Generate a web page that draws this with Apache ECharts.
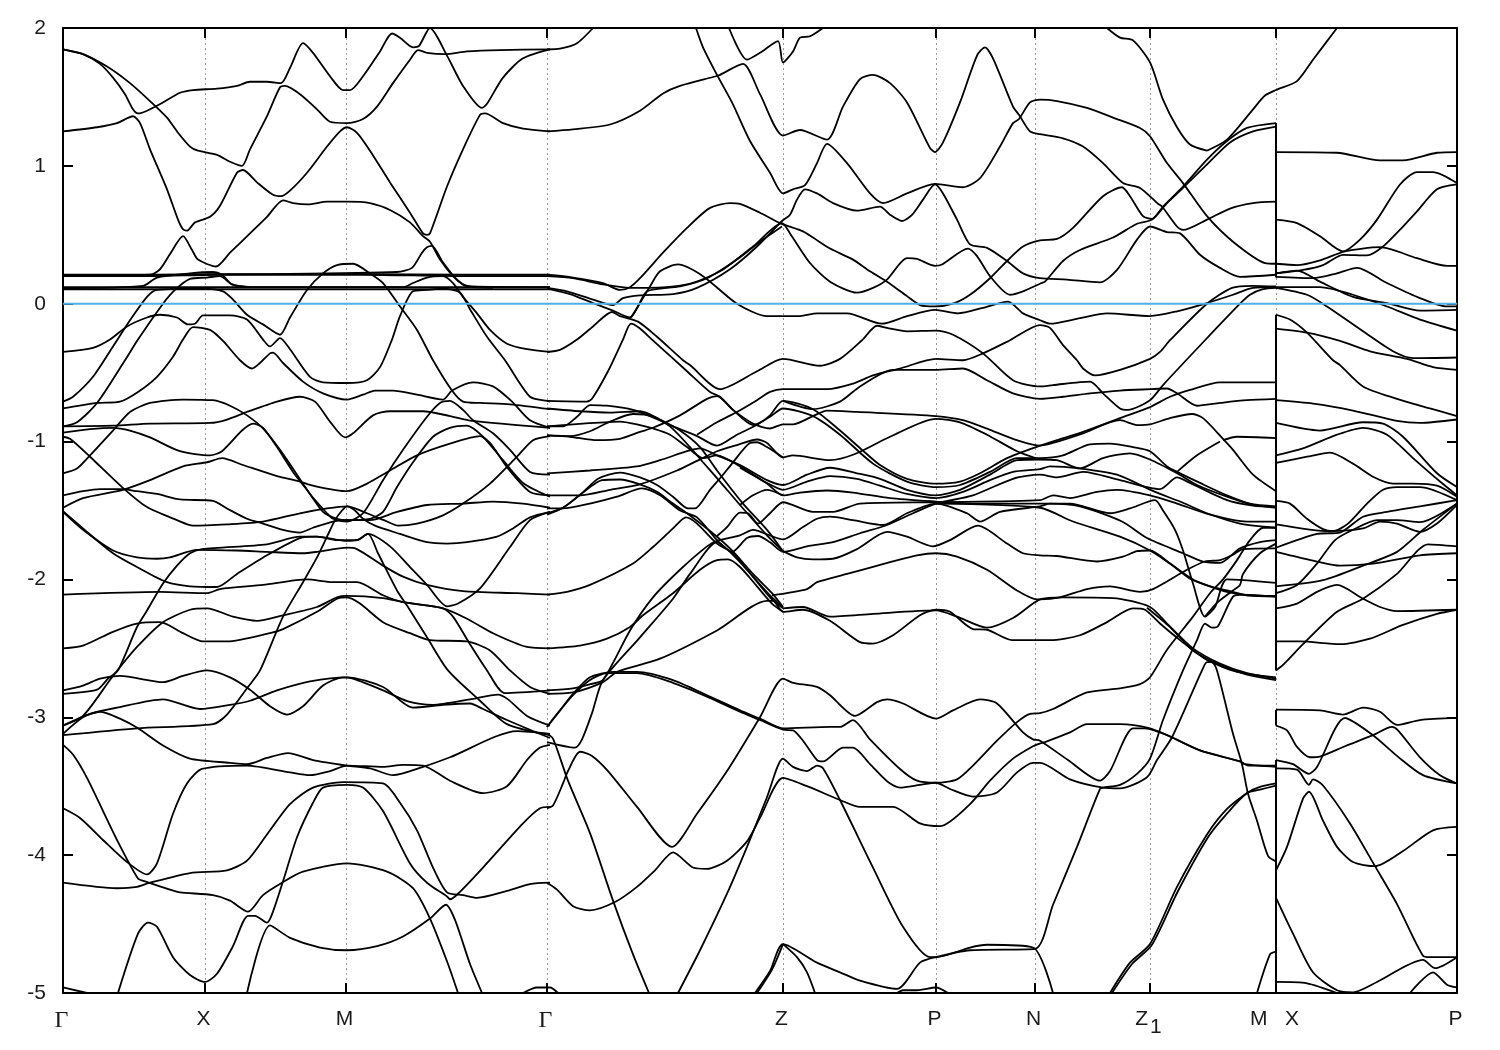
<!DOCTYPE html>
<html><head><meta charset="utf-8">
<style>html,body{margin:0;padding:0;background:#fff}#c{width:1500px;height:1050px}</style>
<script src="https://cdn.jsdelivr.net/npm/echarts@6/dist/echarts.min.js"></script>
</head><body><div id="c"></div>
<script>
// high-symmetry points along the k path (path distance)
const kPoints=[0,142,283,484,720,873,972,1087,1213,1394];
const kLabels=['{g|Γ}','X','M','{g|Γ}','Z','P','N','{z|Z}{sub|1}','M   X','P'];
const energyTicks=[-5,-4,-3,-2,-1,0,1,2];
const fermiLevel=[[0,0],[1394,0]];
// band segments: k, E, k, E, ...
const seg01=[0,1.845,20,1.81,44,1.72,67,1.60,87,1.47,104,1.35,115,1.24,127,1.14,135,1.11,154,1.08,167,1.03,179,1.00,187,1.12,204,1.36,217,1.57,222,1.58,237,1.52,254,1.41,267,1.32,284,1.31,300,1.34,314,1.43,330,1.60,347,1.77,355,1.84,364,1.82,382,1.81,404,1.83,437,1.84,487,1.845];
const seg02=[0,1.845,20,1.81,37,1.74,50,1.64,62,1.52,70,1.41,75,1.38,84,1.40,100,1.46,117,1.53,130,1.55,154,1.56,174,1.58,187,1.61,204,1.61,218,1.60,227,1.71,240,1.89,250,1.82,267,1.65,280,1.55,287,1.55,300,1.65,317,1.83,329,1.96,337,1.93,350,1.86,356,1.87,367,2.00,384,1.80,400,1.58,419,1.42,424,1.45,440,1.64,460,1.78,487,1.845];
const seg03=[0,1.25,34,1.28,54,1.31,70,1.36,77,1.31,87,1.12,104,.83,115,.61,120,.54,124,.53,132,.59,147,.63,157,.71,174,.95,180,.97,194,.88,210,.79,218,.78,227,.82,244,.95,264,1.14,277,1.25,284,1.28,294,1.24,307,1.11,327,.88,347,.66,360,.51,364,.50,367,.51,384,.85,400,1.12,417,1.37,422,1.38,440,1.31,460,1.27,487,1.25];
const seg04=[0,.205,87,.21,97,.25,107,.36,120,.49,129,.39,135,.32,153,.27,167,.37,187,.51,204,.63,220,.75,230,.73,245,.72,264,.74,284,.74,307,.73,327,.68,347,.59,360,.49,367,.45,377,.32,390,.20,400,.14,409,.125,487,.12];
const seg05=[0,.205,210,.215,334,.23,349,.26,359,.37,364,.41,369,.42,379,.31,392,.19,404,.125,430,.115];
const flat1=[0,.21,90,.21,150,.215,300,.215,400,.21,487,.21];
const flat2=[0,.20,90,.20,150,.21,300,.21,400,.20,487,.20];
const flat3=[0,.12,487,.12];
const flat4=[0,.105,487,.105];
const seg06=[0,.114,80,.13,94,.19,127,.22,150,.23,159,.21,169,.14,187,.12,340,.12,350,.15,364,.19,380,.20,390,.15,400,.05,414,-.07,427,-.19,444,-.29,464,-.33,487,-.35];
const seg07=[0,-.89,14,-.86,34,-.72,62,-.41,75,-.26,100,0,112,.10,127,.18,144,.19,157,.20,169,.14,187,.12];
const seg08=[0,-.71,10,-.675,30,-.53,50,-.31,67,-.12,84,.05,94,.10,140,.11,160,.09,170,.03,184,-.08,200,-.15,217,-.225,227,-.10,244,.10,260,.22,274,.28,290,.29,307,.22,320,.15,337,-.02,354,-.19,370,-.41,389,-.63,400,-.71,417,-.72,447,-.73,487,-.765];
const seg09=[0,-.35,30,-.32,47,-.26,64,-.165,84,-.10,97,-.08,114,-.10,125,-.15,132,-.145,140,-.085,167,-.085,184,-.115,200,-.26,207,-.31,217,-.25,227,-.33,247,-.53,260,-.57,284,-.575,304,-.555,317,-.46,329,-.26,337,-.09,350,.09,364,.10,380,.11,397,.08,407,-.04,424,-.24,442,-.41,467,-.675,484,-.705,487,-.71];
const seg10=[0,-.76,34,-.72,57,-.71,75,-.64,94,-.53,110,-.385,120,-.26,130,-.17,147,-.19,160,-.27,177,-.41,189,-.47,197,-.43,207,-.36,210,-.355,220,-.43,240,-.565,260,-.65,284,-.695,300,-.66,312,-.63,330,-.63,354,-.66,380,-.695,389,-.63,410,-.57,430,-.60,449,-.71,467,-.845,487,-.90];
const seg11=[0,-.89,50,-.885,87,-.87,147,-.865,164,-.84,184,-.785,214,-.71,237,-.675,252,-.71,267,-.855,282,-.97,290,-.94,310,-.81,327,-.78,360,-.78,387,-.815,409,-.85,487,-.90];
const seg12=[0,-.935,27,-.91,50,-.90,67,-.92,87,-.97,117,-1.07,147,-1.10,159,-1.07,179,-.92,190,-.87,200,-.90,214,-1.04,230,-1.22,244,-1.35,260,-1.51,274,-1.56,284,-1.57,307,-1.56,320,-1.51,334,-1.33,350,-1.15,370,-.965,387,-.90,404,-.885,420,-.965,440,-1.135,460,-1.30,487,-1.40];
const seg13=[0,-1.23,14,-1.195,27,-1.10,50,-.92,67,-.785,87,-.72,120,-.695,150,-.70,167,-.74,184,-.81,200,-.905,217,-1.06,234,-1.24,247,-1.38,264,-1.52,270,-1.56,284,-1.58,300,-1.52,320,-1.28,340,-1.06,364,-.82,377,-.72,387,-.705,400,-.77,410,-.845,430,-.94,447,-1.06,467,-1.22,487,-1.24];
const seg14=[0,-1.39,20,-1.36,37,-1.345,59,-1.345,74,-1.36,94,-1.38,117,-1.42,150,-1.43,164,-1.485,184,-1.56,200,-1.595,220,-1.64,237,-1.66,250,-1.625,270,-1.58,284,-1.57,307,-1.57,334,-1.51,364,-1.46,400,-1.45,430,-1.435,460,-1.45,487,-1.48];
const seg15=[0,-.965,7,-.98,27,-1.11,59,-1.33,84,-1.475,114,-1.57,130,-1.61,164,-1.60,200,-1.58,237,-1.52,264,-1.485,284,-1.47,304,-1.52,324,-1.58,335,-1.61,354,-1.595,380,-1.535,400,-1.45,427,-1.305,454,-1.11,470,-.99,487,-.96];
const seg16=[0,-1.48,20,-1.41,60,-1.35,87,-1.28,120,-1.18,144,-1.15,159,-1.12,180,-1.17,214,-1.25,237,-1.29,250,-1.32,284,-1.36,304,-1.305,327,-1.21,354,-1.10,387,-1.015,417,-.96,427,-1.01,445,-1.195,467,-1.365,487,-1.39];
const seg17=[0,-1.505,20,-1.63,50,-1.81,74,-1.91,104,-2.02,127,-2.05,154,-2.055,174,-1.96,204,-1.825,237,-1.70,254,-1.69,274,-1.715,294,-1.715,305,-1.67,327,-1.76,347,-1.91,364,-2.04,384,-2.195,395,-2.175,417,-2.065,447,-1.765,467,-1.57,487,-1.51];
const seg18=[0,-1.51,20,-1.64,50,-1.79,74,-1.84,94,-1.85,107,-1.84,134,-1.785,174,-1.79,204,-1.80,240,-1.81,254,-1.80,284,-1.77,294,-1.78,320,-1.90,340,-1.98,364,-2.04,400,-2.085,454,-2.10,487,-2.11];
const seg19=[0,-2.83,34,-2.80,45,-2.72,55,-2.66,74,-2.345,84,-2.225,100,-2.03,114,-1.90,127,-1.81,139,-1.78,204,-1.745,237,-1.69,254,-1.69,284,-1.72,294,-1.715,305,-1.67,315,-1.81,334,-2.08,345,-2.20,364,-2.42,385,-2.66,417,-2.88,444,-3.05,487,-3.13];
const seg20=[0,-3.13,74,-3.08,150,-3.05,164,-2.98,184,-2.79,197,-2.66,220,-2.27,240,-2.02,254,-1.84,264,-1.69,272,-1.57,279,-1.50,284,-1.47,292,-1.50,300,-1.56,312,-1.61,337,-1.67,364,-1.73,384,-1.74,404,-1.73,434,-1.69,450,-1.63,467,-1.55,487,-1.51];
const seg21=[0,-2.11,97,-2.09,144,-2.10,157,-2.07,200,-2.04,244,-2.00,270,-2.02,294,-2.02,320,-2.115,340,-2.165,380,-2.21,390,-2.27,407,-2.47,424,-2.66,442,-2.825,487,-2.805];
const seg22=[0,-2.50,20,-2.48,50,-2.38,74,-2.32,97,-2.31,120,-2.39,140,-2.45,164,-2.45,207,-2.39,220,-2.36,254,-2.235,274,-2.14,284,-2.13,297,-2.175,320,-2.31,347,-2.39,367,-2.44,404,-2.45,427,-2.515,447,-2.66,467,-2.78,487,-2.83];
const seg23=[0,-3.06,20,-2.99,49,-2.71,74,-2.49,100,-2.31,127,-2.22,144,-2.21,170,-2.27,194,-2.30,220,-2.26,254,-2.20,274,-2.13,284,-2.12,320,-2.135,340,-2.165,380,-2.21,404,-2.285,430,-2.39,464,-2.49,487,-2.50];
const seg24=[0,-2.805,20,-2.77,37,-2.72,57,-2.70,100,-2.745,120,-2.70,144,-2.66,167,-2.71,187,-2.80,207,-2.92,224,-2.98,240,-2.92,260,-2.77,280,-2.71,290,-2.72,320,-2.805,345,-2.885,370,-2.91,407,-2.87,435,-2.835,445,-2.87,464,-2.99,487,-3.06];
const seg25=[0,-3.06,27,-2.975,54,-2.93,100,-2.87,137,-2.94,167,-2.91,187,-2.88,214,-2.805,247,-2.74,284,-2.71,320,-2.78,350,-2.93,380,-2.91,407,-2.90,420,-2.94,444,-3.02,470,-3.10,487,-3.15];
const seg26=[0,-3.12,20,-3.00,37,-2.96,57,-3.01,75,-3.08,100,-3.205,127,-3.30,167,-3.33,184,-3.34,204,-3.295,225,-3.26,250,-3.31,284,-3.35,307,-3.37,330,-3.42,360,-3.36,387,-3.29,454,-3.10,487,-3.12];
const seg27=[0,-3.20,10,-3.27,24,-3.44,54,-3.89,75,-4.17,82,-4.19,107,-4.25,117,-4.27,150,-4.29,167,-4.33,185,-4.41,200,-4.29,219,-4.20,240,-4.12,284,-4.06,324,-4.12,350,-4.24,367,-4.46,384,-4.77,395,-5.0];
const seg28=[0,-3.66,17,-3.73,40,-3.89,64,-4.05,84,-4.14,94,-4.06,110,-3.70,124,-3.48,139,-3.375,184,-3.35,227,-3.40,247,-3.42,267,-3.39,284,-3.35,320,-3.36,340,-3.345,360,-3.35,387,-3.46,420,-3.55,444,-3.50,464,-3.31,477,-3.22,487,-3.20];
const seg29=[0,-4.20,54,-4.24,74,-4.23,87,-4.20,127,-4.13,164,-4.11,184,-4.04,204,-3.85,227,-3.63,250,-3.51,280,-3.47,320,-3.48,337,-3.62,354,-3.82,370,-4.09,384,-4.27,400,-4.29,414,-4.31,444,-4.26,467,-4.21,487,-4.20];
const seg30=[55,-5.0,75,-4.57,85,-4.49,94,-4.52,110,-4.74,127,-4.87,142,-4.92,154,-4.86,170,-4.66,185,-4.44,192,-4.44,204,-4.49,209,-4.43,220,-4.19,234,-3.87,250,-3.62,260,-3.51,284,-3.49,300,-3.51,320,-3.68,347,-4.06,364,-4.20,384,-4.30,387,-4.32,395,-4.28,420,-4.09,460,-3.77,477,-3.66,487,-3.65];
const seg31=[184,-5.0,207,-4.51,227,-4.60,257,-4.67,284,-4.69,314,-4.66,340,-4.59,367,-4.46,383,-4.36,392,-4.47,407,-4.79,419,-5.0];
const seg32=[0,-4.96,24,-5.0];
const seg33=[460,-5.0,474,-4.96,487,-4.96,495,-5.0];
// Gamma -> Z -> P -> N
const seg34=[484,1.845,497,1.85,514,1.89,530,2.00];
const seg35=[484,1.25,510,1.265,547,1.30,577,1.40,600,1.525,617,1.58,653,1.65,657,1.66,680,1.74,697,1.52,720,1.22,737,1.26,764,1.19,780,1.43,797,1.63,810,1.66,827,1.60,844,1.46,867,1.13,872,1.10,880,1.17,897,1.46,914,1.80,922,1.86,930,1.78,950,1.43,956,1.37,967,1.25,977,1.23,1000,1.20,1020,1.14,1040,1.02,1060,.875,1077,.84,1095,.725,1099,.705,1114,.56,1120,.535,1144,.61,1167,.69,1190,.73,1213,.74];
const seg36=[633,2.0,640,1.86,654,1.66,669,1.46,687,1.18,707,.95,720,.80,730,.83,742,.86,754,1.02,764,1.16,784,1.02,807,.80,820,.73,844,.80,872,.87,900,.845,917,.91,937,1.14,950,1.31,956,1.34,967,1.46,977,1.48,994,1.47,1024,1.42,1050,1.35,1077,1.275,1087,1.215,1104,1.02,1120,.875,1144,.635,1170,.45,1202,.295,1213,.29];
const seg37=[666,2.0,684,1.77,697,1.82,715,1.905,720,1.75,730,1.83,737,1.93,747,1.94,760,2.0];
const seg38=[484,.21,510,.19,540,.15,557,.10,567,.12,577,.185,600,.37,624,.55,647,.695,667,.73,677,.725,697,.66,717,.585,740,.525,750,.48,767,.40,790,.32,807,.235,824,.16,844,.055,857,-.01,872,-.02,890,0,907,.065,927,.185,944,.31,960,.415,977,.46,994,.47,1010,.55,1040,.78,1059,.845,1067,.78,1080,.635,1089,.615,1100,.705,1120,.85,1144,1.045,1164,1.18,1184,1.275,1213,1.31];
const seg39=[484,.115,504,.09,530,.03,550,-.01,560,.04,577,.06,610,.07,634,.115,667,.25,694,.415,719,.60,727,.645,734,.755,742,.83,754,.80,770,.73,794,.675,817,.705,827,.645,839,.60,849,.645,860,.755,872,.865,880,.80,894,.61,907,.43,924,.405,944,.31,960,.22,977,.185,1004,.175,1037,.155,1054,.245,1074,.465,1087,.56,1104,.52,1117,.51,1137,.355,1157,.26,1177,.195,1213,.21];
const seg40=[484,.20,510,.185,540,.14,567,.115,584,.115,624,.14,657,.235,690,.415,719,.585,727,.51,747,.295,767,.16,794,.08,810,.115,824,.175,844,.33,854,.325,872,.275,879,.285,905,.40,914,.345,927,.20,947,.065,960,.09,977,.145,982,.16,1000,.31,1017,.39,1050,.48,1074,.58,1089,.61,1104,.73,1120,.84,1144,1.01,1167,1.17,1190,1.25,1213,1.285];
const seg41=[484,.11,507,.07,530,.005,550,-.05,567,-.10,575,-.02,584,.09,617,.125,644,.185,674,.32,697,.45,719,.56];
const seg42=[568,-.10,577,.005,587,.125,597,.235,615,.285,640,.20,674,0,704,-.09,737,-.09,754,-.07,784,-.07,819,-.145,844,-.09,872,-.045,895,-.07,920,-.03,945,.015,960,-.07,977,-.12,987,-.145,1017,-.105,1044,-.07,1087,-.09,1114,-.055,1144,.005,1170,.065,1190,.115,1213,.12];
const seg43=[484,-.35,497,-.335,514,-.26,530,-.165,549,-.06,557,-.09,575,-.13,594,-.24,620,-.41,627,-.445,657,-.62,694,-.49,720,-.40,757,-.45,777,-.40,799,-.265,814,-.16,824,-.175,844,-.20,873,-.195,890,-.225,920,-.36,950,-.555,977,-.60,990,-.59,1027,-.565,1040,-.65,1057,-.76,1065,-.77,1087,-.70,1100,-.59,1142,-.265,1177,0,1187,.065,1200,.105,1213,.115];
const seg44=[484,-.705,524,-.71,529,-.69,545,-.49,560,-.26,568,-.145,576,-.175,589,-.26,624,-.49,647,-.64,657,-.675,670,-.77,690,-.88,707,-.82,720,-.76,750,-.815,777,-.95,810,-1.16,844,-1.29,873,-1.33,897,-1.315,927,-1.22,954,-1.12,977,-1.12,1000,-1.10,1027,-1.02,1047,-1.015,1070,-1.04,1087,-1.07,1104,-1.18,1114,-1.22,1137,-1.30,1164,-1.39,1187,-1.45,1213,-1.47];
const seg45=[484,-.76,517,-.78,547,-.79,577,-.78,597,-.84,617,-.92,637,-1.04,654,-1.21,680,-1.45,704,-1.64,720,-1.795];
const seg46=[484,-.89,500,-.89,514,-.82,527,-.735,544,-.74,570,-.77,590,-.825,610,-.89,634,-.96,654,-1.03,674,-.95,695,-.875,707,-.81,720,-.705,750,-.765,777,-.92,799,-1.06,817,-1.17,844,-1.27,873,-1.305,897,-1.29,917,-1.23,944,-1.12,977,-1.03,994,-.99,1020,-.93,1057,-.83,1087,-.75,1107,-.675,1127,-.625,1157,-.57,1213,-.57];
const seg47=[484,-.955,507,-.965,534,-.99,557,-.98,577,-.93,590,-.90,617,-.81,644,-.69,654,-.67,670,-.77,690,-.87,707,-.905,720,-.875,730,-.875,750,-.815,764,-.775,794,-.785,873,-.815,900,-.845,927,-.915,954,-.99,977,-1.03,990,-1.01,1020,-.94,1057,-.845,1074,-.88,1087,-.875,1107,-.83,1129,-.80,1140,-.83,1160,-.98,1170,-1.06,1190,-1.24,1213,-1.36];
const seg48=[484,-.955,507,-.96,527,-.925,547,-.855,570,-.80,589,-.815,607,-.89,627,-1.04,640,-1.15,657,-1.29,677,-1.46,704,-1.68,720,-1.795];
const seg49=[484,-1.23,527,-1.21,574,-1.18,597,-1.135,624,-1.07,637,-1.05,654,-1.10,677,-1.17,704,-1.28,720,-1.315,744,-1.24,767,-1.19,794,-1.23,817,-1.27,844,-1.35,873,-1.39,897,-1.35,927,-1.24,954,-1.135,977,-1.13,994,-1.135,1017,-1.195,1040,-1.12,1067,-1.085,1087,-1.13,1114,-1.23,1134,-1.315,1164,-1.40,1190,-1.46,1213,-1.48];
const seg50=[484,-.89,520,-.87,557,-.855,574,-.875,590,-.905,607,-.95,624,-1.04,640,-1.12,654,-1.10,677,-1.18,704,-1.305,720,-1.39,737,-1.37,764,-1.355,790,-1.37,827,-1.41,873,-1.435,910,-1.45,977,-1.45,1007,-1.45,1047,-1.52,1067,-1.485,1092,-1.425,1100,-1.50,1112,-1.64,1120,-1.79,1130,-2.03,1142,-2.27,1152,-2.20,1164,-2.00,1213,-2.025];
const seg51=[484,-1.39,517,-1.39,547,-1.35,577,-1.31,614,-1.21,634,-1.14,654,-1.07,674,-1.025,694,-.985,704,-1.01,720,-1.115,730,-1.10,767,-1.135,792,-1.09,827,-.965,873,-.835,897,-.86,924,-.95,954,-1.07,977,-1.13];
const seg52=[677,-1.19,704,-1.30,720,-1.35,744,-1.29,767,-1.25,794,-1.27,817,-1.32,844,-1.38,873,-1.41,900,-1.365,927,-1.28,950,-1.22,977,-1.20,987,-1.18,1017,-1.195,1054,-1.24,1092,-1.365,1117,-1.435,1144,-1.52,1177,-1.595,1213,-1.625];
const seg53=[484,-1.485,500,-1.485,527,-1.45,554,-1.40,579,-1.34,597,-1.39,617,-1.50,634,-1.55,654,-1.715,667,-1.80,684,-1.93,707,-2.13,720,-2.21];
const seg54=[484,-1.52,500,-1.48,519,-1.375,535,-1.27,557,-1.225,577,-1.26,594,-1.315,610,-1.40,625,-1.485,632,-1.485,647,-1.35,659,-1.25,669,-1.16,687,-1.01,694,-1.005,704,-1.04,720,-1.115];
const seg55=[484,-1.53,500,-1.48,519,-1.375,539,-1.28,557,-1.275,577,-1.31,594,-1.365,610,-1.45,624,-1.52,654,-1.69,669,-1.79,690,-1.96,709,-2.10,720,-2.20];
const seg56=[654,-1.685,664,-1.62,677,-1.515,685,-1.52,695,-1.595,707,-1.52,720,-1.44,750,-1.51,770,-1.51,797,-1.45,873,-1.44,977,-1.425,990,-1.39,1007,-1.41,1034,-1.365,1054,-1.35,1087,-1.39,1114,-1.45,1147,-1.53,1184,-1.58,1213,-1.58];
const seg57=[677,-1.46,690,-1.39,704,-1.35,720,-1.39];
const seg58=[484,-2.11,504,-2.09,527,-2.04,570,-1.885,590,-1.765,610,-1.63,623,-1.55,634,-1.595,654,-1.74,670,-1.81,684,-1.93,707,-2.115,720,-2.20];
const seg59=[484,-2.50,517,-2.48,544,-2.43,567,-2.345,580,-2.26,610,-2.10,637,-1.93,654,-1.86,665,-1.855,677,-1.91,694,-2.05,709,-2.175,720,-2.235];
const seg60=[484,-2.805,510,-2.79,527,-2.76,540,-2.73,567,-2.37,590,-2.13,617,-1.93,644,-1.76,654,-1.72,677,-1.68,690,-1.64,710,-1.69,720,-1.71,740,-1.62,754,-1.56,767,-1.545,790,-1.57,820,-1.605,844,-1.52,873,-1.45,904,-1.52,917,-1.58,937,-1.51,977,-1.47,987,-1.45,1017,-1.47,1059,-1.58,1084,-1.70,1120,-1.81,1140,-1.87,1157,-1.88,1177,-1.775,1197,-1.73,1213,-1.715];
const seg61=[484,-3.18,512,-3.22,519,-3.16,529,-2.97,540,-2.73,577,-2.42,610,-2.14,627,-1.96,654,-1.73,669,-1.80,684,-1.70,695,-1.685,707,-1.73,720,-1.80,744,-1.76,770,-1.73,797,-1.665,824,-1.605,850,-1.52,873,-1.45,910,-1.39,950,-1.27,977,-1.24,994,-1.26,1020,-1.22,1057,-1.28,1097,-1.345,1114,-1.26,1127,-1.30,1164,-1.425,1190,-1.465,1213,-1.475];
const seg62=[873,-1.45,977,-1.48,1010,-1.58,1057,-1.69,1087,-1.79,1107,-1.885,1130,-2.00,1147,-2.05,1164,-2.09,1184,-2.115,1213,-2.125];
const seg63=[484,-2.83,510,-2.82,540,-2.745,554,-2.67,597,-2.575,654,-2.37,704,-2.155,710,-2.155,720,-2.235,740,-2.22,767,-2.30,797,-2.455,810,-2.465,830,-2.405,857,-2.26,873,-2.22,887,-2.235,910,-2.36,924,-2.365,949,-2.44,977,-2.44,987,-2.44,1017,-2.405,1044,-2.31,1070,-2.21,1082,-2.22,1097,-2.32,1117,-2.44,1144,-2.585,1174,-2.67,1213,-2.71];
const seg64=[720,-2.21,740,-2.20,767,-2.27,810,-2.25,873,-2.225,894,-2.27,924,-2.35,950,-2.28,977,-2.145,1000,-2.13,1050,-2.135,1087,-2.20,1104,-2.32,1130,-2.50,1157,-2.61,1184,-2.68,1213,-2.72];
const seg65=[709,-2.115,744,-2.07,754,-2.02,784,-1.96,827,-1.875,854,-1.825,873,-1.81,894,-1.835,924,-1.93,954,-2.08,974,-2.145,977,-2.145,997,-2.13,1024,-2.07,1047,-2.05,1077,-2.09,1090,-2.07,1124,-1.93,1142,-1.87,1157,-1.86,1170,-1.82,1180,-1.78,1213,-1.775];
const seg66=[720,-1.795,734,-1.84,750,-1.855,770,-1.85,794,-1.78,824,-1.655,844,-1.69,870,-1.76,887,-1.715,915,-1.61,944,-1.74,960,-1.81,977,-1.825,994,-1.83,1034,-1.87,1060,-1.835,1074,-1.795,1087,-1.79,1107,-1.885,1127,-1.995,1147,-2.05,1164,-2.08,1184,-2.115,1213,-2.12];
const seg67=[484,-3.07,497,-2.95,510,-2.83,527,-2.71,550,-2.67,574,-2.67,610,-2.73,644,-2.84,677,-2.95,697,-3.01,720,-3.08,767,-3.07,777,-3.07,790,-3.02,807,-3.16,837,-3.375,854,-3.46,873,-3.475,894,-3.45,910,-3.35,934,-3.17,954,-3.035,967,-2.975,977,-2.97,990,-2.94,1024,-2.82,1057,-2.79,1077,-2.76,1087,-2.71,1104,-2.51,1130,-2.27,1147,-2.10,1160,-2.00,1174,-1.86,1187,-1.715,1200,-1.625,1213,-1.625];
const seg68=[484,-3.07,497,-2.95,510,-2.84,527,-2.73,544,-2.68,574,-2.68,610,-2.75,644,-2.85,677,-2.96,697,-3.02,720,-3.09,730,-3.095,740,-3.17,754,-3.31,760,-3.32,780,-3.22,790,-3.22,807,-3.34,825,-3.47,837,-3.51,857,-3.49,873,-3.475,887,-3.52,910,-3.575,934,-3.545,954,-3.40,970,-3.33,977,-3.33,1007,-3.45,1040,-3.51,1057,-3.515,1084,-3.435,1094,-3.31,1109,-3.145,1139,-2.66,1144,-2.60,1149,-2.60,1154,-2.66,1170,-3.12,1179,-3.34,1185,-3.555,1194,-3.75,1205,-4.005,1213,-4.045];
const seg69=[484,-3.12,490,-3.155,505,-3.46,527,-3.84,550,-4.33,570,-4.72,586,-5.0];
const seg70=[484,-3.66,490,-3.64,500,-3.48,505,-3.39,517,-3.25,529,-3.28,545,-3.39,574,-3.65,609,-3.94,634,-3.70,664,-3.39,697,-3.00,720,-2.72,730,-2.75,754,-2.78,767,-2.84,792,-2.99,814,-2.89,824,-2.87,840,-2.90,873,-3.01,890,-2.95,917,-2.87,934,-2.90,960,-3.11,970,-3.16,977,-3.17,1005,-3.31,1037,-3.46,1047,-3.39,1070,-3.08,1082,-3.08,1097,-3.11,1109,-3.145,1137,-3.24,1177,-3.32,1182,-3.34,1213,-3.36];
const seg71=[484,-4.20,494,-4.25,510,-4.37,527,-4.40,552,-4.34,574,-4.23,592,-4.11,610,-3.98,630,-4.09,644,-4.10,664,-4.04,684,-3.90,697,-3.73,720,-3.44,744,-3.50,777,-3.60,797,-3.65,830,-3.65,857,-3.77,877,-3.79,907,-3.63,927,-3.46,950,-3.30,970,-3.21,977,-3.19,982,-3.18,1007,-3.11,1024,-3.05,1057,-3.05,1087,-3.08,1104,-3.13,1137,-3.24,1177,-3.32,1185,-3.35,1213,-3.35];
const seg72=[615,-5.0,637,-4.69,664,-4.28,684,-3.94,704,-3.58,720,-3.30,730,-3.36,744,-3.39,754,-3.35,760,-3.37,777,-3.60,810,-4.09,840,-4.52,867,-4.74,873,-4.74,907,-4.67,924,-4.65,970,-4.67,990,-5.0];
const seg73=[692,-5.0,707,-4.84,720,-4.645,754,-4.78,777,-4.85,797,-4.91,834,-4.97,857,-4.78,873,-4.74,907,-4.69,972,-4.68,990,-4.36,1014,-3.94,1037,-3.52,1040,-3.51,1057,-3.49,1074,-3.41,1087,-3.30,1100,-3.02,1120,-2.66,1134,-2.44,1142,-2.32,1149,-2.35,1155,-2.34,1170,-2.125,1180,-2.11,1213,-2.125];
const seg74=[694,-5.0,709,-4.83,720,-4.645];
const seg75=[720,-4.645,734,-4.74,744,-4.85,752,-5.0];
const seg76=[834,-5.0,840,-4.98,854,-4.98,873,-4.96,885,-5.0];
const seg77=[634,-.95,654,-.86,674,-.785,694,-.70,707,-.64,720,-.62,764,-.62,790,-.58,810,-.52,837,-.47,873,-.40,900,-.41,920,-.36,947,-.265,977,-.155,987,-.175,1000,-.30,1014,-.41,1020,-.47,1032,-.52,1057,-.48,1087,-.40,1097,-.35,1107,-.265,1144,0,1169,.115,1190,.13,1213,.125];
const seg78=[720,-.705,750,-.765,777,-.71,797,-.60,830,-.48,873,-.48,900,-.47,924,-.555,950,-.65,977,-.69,1000,-.675,1027,-.65,1057,-.63,1087,-.62,1104,-.615,1114,-.65,1134,-.74,1157,-.72,1184,-.70,1213,-.69];
// N -> Z1 -> M extras
const seg79=[1114,-1.22,1134,-1.10,1157,-1.00];
const seg80=[1160,-.99,1174,-.965,1213,-.975];
const seg81=[1142,-2.27,1154,-2.17,1170,-2.08,1177,-2.04,1180,-1.96,1197,-1.81,1213,-1.74];
const seg82=[1084,-2.205,1107,-2.345,1130,-2.515,1157,-2.62,1184,-2.69,1213,-2.73];
const seg83=[1047,-5.0,1067,-4.78,1087,-4.645,1114,-4.23,1144,-3.85,1164,-3.665,1185,-3.545,1197,-3.505,1213,-3.48];
const seg84=[1049,-5.0,1069,-4.79,1089,-4.65,1115,-4.26,1145,-3.87,1165,-3.69,1184,-3.55,1197,-3.525,1213,-3.495];
const seg85=[1194,-5.0,1207,-4.72,1213,-4.70];
// M -> X jumps of the path
const jumpA=[1213,1.31,1213,.19];
const jumpB=[1213,-.08,1213,-2.66];
const jumpC=[1213,-2.945,1213,-3.06];
const jumpD=[1213,-3.31,1213,-5];
// X -> P
const seg86=[1144,1.11,1164,1.19,1190,1.41,1202,1.51,1213,1.55,1234,1.615,1250,1.77,1274,2.0];
const seg87=[1044,2.0,1057,1.93,1070,1.91,1087,1.75,1100,1.48,1114,1.28,1127,1.155,1144,1.11];
const seg88=[1213,1.10,1274,1.095,1317,1.04,1340,1.04,1374,1.095,1394,1.10];
const seg89=[1213,.29,1234,.28,1257,.315,1282,.38,1317,.41,1354,.33,1384,.275,1394,.275];
const seg90=[1213,.22,1240,.245,1260,.28,1280,.355,1304,.35,1320,.415,1340,.56,1354,.67,1374,.83,1394,.865];
const seg91=[1213,.61,1234,.585,1257,.49,1280,.38,1297,.465,1314,.61,1337,.865,1354,.955,1370,.955,1394,.875];
const seg92=[1213,.195,1250,.185,1274,.22,1294,.26,1324,.15,1354,.05,1384,-.02,1394,-.02];
const seg93=[1213,.22,1234,.24,1257,.16,1290,.05,1324,.005,1357,-.05,1394,-.045];
const seg94=[1213,.115,1244,.065,1264,-.02,1300,-.20,1330,-.345,1350,-.395,1394,-.39];
const seg95=[1213,.12,1257,.12,1290,.065,1324,-.02,1357,-.115,1394,-.195];
const seg96=[1213,-.08,1227,-.115,1244,-.21,1270,-.41,1277,-.445,1300,-.60,1334,-.69,1367,-.76,1394,-.815];
const seg97=[1213,-.18,1244,-.21,1277,-.27,1307,-.345,1344,-.40,1370,-.46,1394,-.48];
const seg98=[1213,-.70,1250,-.725,1290,-.775,1334,-.85,1357,-.865,1394,-.84];
const seg99=[1213,-.865,1257,-.92,1300,-.86,1320,-.87,1340,-.965,1374,-1.23,1394,-1.33];
const seg100=[1213,-1.10,1240,-1.05,1274,-.95,1300,-.90,1324,-.95,1350,-1.12,1377,-1.29,1394,-1.39];
const seg101=[1213,-1.155,1244,-1.11,1267,-1.08,1290,-1.16,1310,-1.255,1330,-1.305,1350,-1.305,1374,-1.32,1394,-1.40];
const seg102=[1213,-1.43,1227,-1.45,1244,-1.56,1260,-1.635,1270,-1.65,1285,-1.595,1304,-1.45,1320,-1.35,1334,-1.33,1357,-1.33,1394,-1.425];
const seg103=[1213,-1.60,1267,-1.65,1300,-1.63,1317,-1.58,1334,-1.595,1357,-1.655,1374,-1.595,1394,-1.46];
const seg104=[1213,-1.77,1254,-1.67,1277,-1.66,1300,-1.545,1324,-1.51,1357,-1.47,1394,-1.425];
const seg105=[1213,-1.80,1254,-1.87,1277,-1.90,1310,-1.885,1357,-1.825,1394,-1.81];
const seg106=[1213,-2.05,1260,-2.005,1300,-1.90,1334,-1.80,1360,-1.64,1394,-1.45];
const seg107=[1213,-2.10,1234,-2.04,1254,-1.885,1272,-1.715,1290,-1.64,1314,-1.57,1334,-1.57,1357,-1.585,1394,-1.45];
const seg108=[1213,-2.21,1234,-2.175,1254,-2.09,1274,-2.04,1300,-2.14,1317,-2.20,1334,-2.23,1394,-2.22];
const seg109=[1213,-2.45,1237,-2.45,1277,-2.47,1307,-2.43,1340,-2.33,1374,-2.25,1394,-2.22];
const seg110=[1213,-2.66,1220,-2.62,1240,-2.47,1274,-2.235,1300,-2.14,1334,-1.96,1365,-1.745,1394,-1.76];
const seg111=[1213,-2.945,1257,-2.95,1280,-2.98,1300,-2.93,1317,-2.96,1334,-3.055,1357,-3.02,1394,-3.005];
const seg112=[1213,-3.06,1224,-3.095,1234,-3.215,1247,-3.29,1257,-3.285,1282,-3.21,1310,-3.13,1329,-3.07,1335,-3.095,1357,-3.29,1377,-3.42,1394,-3.48];
const seg113=[1213,-3.31,1230,-3.34,1246,-3.41,1254,-3.36,1282,-3.005,1310,-3.13,1334,-3.28,1360,-3.42,1394,-3.48];
const seg114=[1213,-3.37,1234,-3.38,1246,-3.49,1250,-3.45,1260,-3.495,1287,-3.77,1312,-4.08,1334,-4.355,1360,-4.73,1367,-4.74,1394,-4.74];
const seg115=[1213,-4.11,1224,-3.94,1240,-3.59,1246,-3.54,1260,-3.75,1274,-3.94,1290,-4.05,1312,-4.08,1340,-3.97,1370,-3.82,1394,-3.795];
const seg116=[1213,-4.31,1230,-4.57,1250,-4.85,1274,-4.98,1290,-4.995,1314,-4.92,1360,-4.76,1372,-4.82,1394,-4.74];
const seg117=[1213,-4.92,1244,-4.93,1274,-5.0];
const seg118=[1347,-5.0,1370,-4.85,1384,-4.94,1394,-4.96];

const segments=[seg01,seg02,seg03,seg04,seg05,flat1,flat2,flat3,flat4,seg06,seg07,seg08,seg09,seg10,seg11,seg12,seg13,seg14,seg15,seg16,seg17,seg18,seg19,seg20,seg21,seg22,seg23,seg24,seg25,seg26,seg27,seg28,seg29,seg30,seg31,seg32,seg33,seg34,seg35,seg36,seg37,seg38,seg39,seg40,seg41,seg42,seg43,seg44,seg45,seg46,seg47,seg48,seg49,seg50,seg51,seg52,seg53,seg54,seg55,seg56,seg57,seg58,seg59,seg60,seg61,seg62,seg63,seg64,seg65,seg66,seg67,seg68,seg69,seg70,seg71,seg72,seg73,seg74,seg75,seg76,seg77,seg78,seg79,seg80,seg81,seg82,seg83,seg84,seg85,seg86,seg87,seg88,seg89,seg90,seg91,seg92,seg93,seg94,seg95,seg96,seg97,seg98,seg99,seg100,seg101,seg102,seg103,seg104,seg105,seg106,seg107,seg108,seg109,seg110,seg111,seg112,seg113,seg114,seg115,seg116,seg117,seg118];
const jumps=[jumpA,jumpB,jumpC,jumpD];

const toPairs=a=>{const o=[];for(let i=0;i<a.length;i+=2)o.push([a[i],a[i+1]]);return o;};
const series=segments.map(s=>({type:'line',data:toPairs(s),showSymbol:false,symbol:'none',smooth:0.25,clip:true,silent:true,lineStyle:{color:'#000',width:1.8},z:3}));
jumps.forEach(s=>series.push({type:'line',data:toPairs(s),symbol:'none',silent:true,lineStyle:{color:'#000',width:2},z:3}));
series.push({type:'line',data:fermiLevel,symbol:'none',silent:true,lineStyle:{color:'#4FB0E8',width:2},z:5});

const frame={show:true,onZero:false,lineStyle:{color:'#000',width:2}};
const tickOut={show:true,inside:true,length:10,lineStyle:{color:'#000',width:2}};
const font={fontFamily:'"Liberation Sans",Arial,sans-serif',fontSize:21,color:'#1a1a1a'};
const chart=echarts.init(document.getElementById('c'),null,{renderer:'canvas'});
chart.setOption({
  animation:false,backgroundColor:'#fff',
  grid:{left:63,right:43,top:28,bottom:57,containLabel:false},
  xAxis:[
   {type:'value',position:'bottom',min:0,max:1394,axisLine:frame,
    axisTick:Object.assign({},tickOut,{customValues:kPoints}),
    axisLabel:Object.assign({},font,{show:true,margin:16,customValues:kPoints,padding:[0,3,0,0],
      formatter:v=>kLabels[kPoints.indexOf(v)],
      rich:{g:{fontFamily:'"Liberation Serif",serif',fontSize:24,color:'#1a1a1a'},
            z:{fontFamily:'"Liberation Sans",sans-serif',fontSize:21,color:'#1a1a1a',padding:[0,0,8,0]},
            sub:{fontFamily:'"Liberation Sans",sans-serif',fontSize:21,color:'#1a1a1a',padding:[8,0,0,2]}}}),
    splitLine:{show:true,lineStyle:{color:'#999',type:[2,3],width:1}}},
   {type:'value',position:'top',min:0,max:1394,axisLine:frame,
    axisTick:Object.assign({},tickOut,{customValues:kPoints}),axisLabel:{show:false},splitLine:{show:false}}
  ],
  yAxis:[
   {type:'value',position:'left',min:-5,max:2,interval:1,axisLine:frame,axisTick:tickOut,
    axisLabel:Object.assign({},font,{margin:17,customValues:energyTicks}),splitLine:{show:false}},
   {type:'value',position:'right',min:-5,max:2,interval:1,axisLine:frame,axisTick:tickOut,axisLabel:{show:false},splitLine:{show:false}}
  ],
  series:series
});
</script></body></html>
